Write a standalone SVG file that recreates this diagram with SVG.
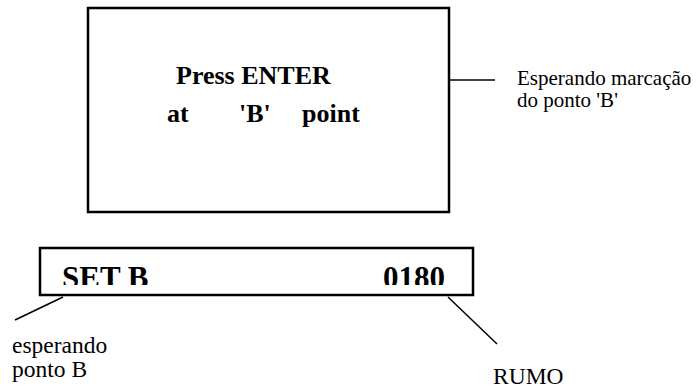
<svg xmlns="http://www.w3.org/2000/svg" width="696" height="388" viewBox="0 0 696 388">
<style>
.box{fill:#fff;stroke:#000;stroke-width:2.5}
.big{font-family:"Liberation Serif","Times New Roman",serif;font-weight:bold;font-size:26px;fill:#000}
.lcd{font-family:"Liberation Serif","Times New Roman",serif;font-weight:bold;font-size:31px;fill:#000}
.lbl{font-family:"Liberation Serif","Times New Roman",serif;font-size:21px;fill:#000}
.lbl2{font-family:"Liberation Serif","Times New Roman",serif;font-size:23.5px;fill:#000}
.con{stroke:#000;stroke-width:1.5;fill:none}
</style>
<defs>
<clipPath id="clipLcd"><rect x="40" y="248" width="433" height="37"/></clipPath>
</defs>
<rect width="696" height="388" fill="#fff"/>
<g id="screen">
<rect class="box" x="88" y="8" width="361" height="204"/>
<text class="big" x="176" y="84">Press ENTER</text>
<text class="big" x="167" y="122">at</text>
<text class="big" x="239" y="122">'B'</text>
<text class="big" x="302" y="122">point</text>
</g>
<g id="lcd">
<rect class="box" x="40" y="248" width="433" height="47"/>
<g clip-path="url(#clipLcd)">
<text class="lcd" x="62" y="288">SET B</text>
<text class="lcd" x="383" y="288">0180</text>
</g>
</g>
<g id="labels">
<text class="lbl" x="517" y="85">Esperando marcação</text>
<text class="lbl" x="517" y="107">do ponto 'B'</text>
<text class="lbl2" x="12" y="353">esperando</text>
<text class="lbl2" x="12" y="377">ponto B</text>
<text class="lbl2" x="493" y="384">RUMO</text>
</g>
<g id="connectors">
<line class="con" x1="449" y1="80" x2="495" y2="80"/>
<line class="con" x1="63" y1="297" x2="15" y2="320"/>
<line class="con" x1="448" y1="297" x2="497" y2="344"/>
</g>
</svg>
